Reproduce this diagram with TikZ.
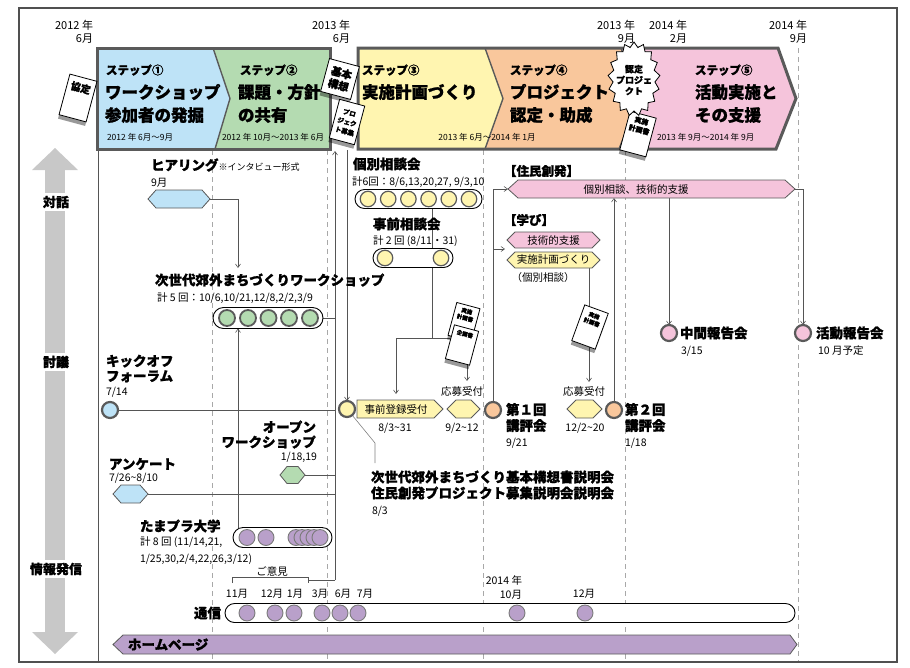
\documentclass[tikz,border=0pt]{standalone}
\usepackage{fontspec}
\setmainfont{Noto Sans CJK JP}[BoldFeatures={FakeBold=1.2}]
\usetikzlibrary{shapes.symbols,shapes.misc,shadows,arrows.meta,calc}
\definecolor{cblue}{HTML}{BEE3F7}
\definecolor{cgreen}{HTML}{B4DBB1}
\definecolor{cyellow}{HTML}{FFF5B0}
\definecolor{corange}{HTML}{F9C79C}
\definecolor{cpink}{HTML}{F5C4DB}
\definecolor{cpurple}{HTML}{B9A0CA}
\definecolor{cborder}{HTML}{5A5A5A}
\definecolor{cline}{HTML}{555555}
\definecolor{cdash}{HTML}{A8A8A8}
\definecolor{cgarrow}{HTML}{C8C8C8}
\definecolor{cframe}{HTML}{505050}
\newcommand{\fsz}[2]{\fontsize{#1pt}{#2pt}\selectfont}
\newcommand{\tld}{\char"007E\relax}
\newcommand{\hexof}[3]{\path[#3] (#1.west) -- ([xshift=#2pt]#1.north west) -- ([xshift=-#2pt]#1.north east) -- (#1.east) -- ([xshift=-#2pt]#1.south east) -- ([xshift=#2pt]#1.south west) -- cycle;}
\newcommand{\arrowof}[3]{\path[#3] (#1.north west) -- ([xshift=-#2pt]#1.north east) -- (#1.east) -- ([xshift=-#2pt]#1.south east) -- (#1.south west) -- cycle;}
\pgfdeclarelayer{back}
\pgfsetlayers{back,main}
\tikzset{
  every node/.style={inner sep=0pt, outer sep=0pt},
  tbl/.style={font=\bfseries\fsz{13.5}{15}},
  tsm/.style={font=\fsz{10.5}{12}},
  tmd/.style={font=\fsz{10.5}{12}},
  datel/.style={font=\fsz{11}{13}, align=right, anchor=east},
  stepn/.style={font=\bfseries\fsz{11.5}{13}, anchor=west},
  stept/.style={font=\bfseries\fsz{16.5}{23}, anchor=west, align=left},
  stepd/.style={font=\fsz{8.5}{10}},
  sideL/.style={font=\bfseries\fsz{13}{15}, fill=white, inner ysep=3pt, inner xsep=1pt},
  hexst/.style={draw=cborder, line width=0.8pt},
  pill/.style={rounded rectangle, draw=black, line width=0.9pt, fill=white},
  bigc/.style={circle, draw=cborder, line width=2.2pt, minimum size=16pt},
  ycirc/.style={circle, draw=cborder, line width=1.2pt, fill=cyellow, minimum size=15.5pt},
  gcirc/.style={circle, draw=cborder, line width=1.8pt, fill=cgreen, minimum size=16pt},
  pcirc/.style={circle, draw=cborder!80, line width=0.9pt, fill=cpurple, minimum size=16pt},
  card/.style={draw=black, fill=white, line width=0.8pt, rotate=#1,
    drop shadow={shadow xshift=-1pt, shadow yshift=-4pt, fill=black, opacity=0.4}},
  card/.default=-15,
  cardt/.style={rotate=#1, align=center},
  cardt/.default=-15,
  arr/.style={draw=cline, line width=0.6pt, -{Straight Barb[length=3.5pt,width=5pt]}},
  ln/.style={draw=cline, line width=0.6pt},
  dsh/.style={draw=cdash, line width=0.7pt, dash pattern=on 5pt off 4pt},
  stepb/.style={draw=cborder, line width=3pt, line join=miter},
  chev/.style={draw=cborder, line width=1.4pt},
}
\begin{document}
\begin{tikzpicture}[x=1pt,y=-1pt]
\useasboundingbox (0,0) rectangle (910,667);
% frame
\draw[draw=cframe, line width=1.2pt] (19,8) rectangle (897,662);
% big gray double arrow
\fill[cgarrow] (45,169) rectangle (65,633);
\fill[cgarrow] (32,170) -- (55,148) -- (78,170) -- cycle;
\fill[cgarrow] (32,632) -- (55,654) -- (78,632) -- cycle;
\node[sideL] (lt1) at (56,202) {対話};
\node[sideL] (lt2) at (56,362) {討議};
\node[sideL] (lt3) at (56,569) {情報発信};
% guides
\begin{pgfonlayer}{back}
\foreach \x in {212,327,483,625} \draw[dsh] (\x,150) -- (\x,661);
\draw[dsh] (798,48) -- (798,661);
\draw[cline, line width=0.8pt] (98,149) -- (98,661);
\end{pgfonlayer}
% dates
\node[datel] (d1) at (93,31.5) {2012 年\\6月};
\node[datel] (d2) at (350,31.5) {2013 年\\6月};
\node[datel] (d3) at (635,31.5) {2013 年\\9月};
\node[datel] (d4) at (687,31.5) {2014 年\\2月};
\node[datel] (d5) at (807,31.5) {2014 年\\9月};
% step bar part A
\fill[cblue] (97,48) -- (213,48) -- (230,98.5) -- (215,149) -- (97,149) -- cycle;
\fill[cgreen] (213,48) -- (330,48) -- (330,149) -- (215,149) -- (230,98.5) -- cycle;
\draw[chev] (213,48) -- (230,98.5) -- (215,149);
\draw[stepb] (97,48) rectangle (330,149);
% step bar part B
\fill[cyellow] (358,48) -- (485,48) -- (503,98.5) -- (485,149) -- (358,149) -- cycle;
\fill[corange] (485,48) -- (621,48) -- (639,98.5) -- (619,149) -- (485,149) -- (503,98.5) -- cycle;
\fill[cpink] (621,48) -- (778,48) -- (796,98.5) -- (776,149) -- (619,149) -- (639,98.5) -- cycle;
\draw[chev] (485,48) -- (503,98.5) -- (485,149);
\draw[chev] (621,48) -- (639,98.5) -- (619,149);
\draw[stepb] (358,48) -- (778,48) -- (796,98.5) -- (776,149) -- (358,149) -- cycle;
% step texts
\node[stepn] (s1a) at (106,70) {ステップ①};
\node[stept] (s1b) at (105,103.5) {ワークショップ\\参加者の発掘};
\node[stepd, anchor=west] (s1c) at (107,137) {2012 年 6月～9月};
\node[stepn] (s2a) at (240,70) {ステップ②};
\node[stept] (s2b) at (238,103.5) {課題・方針\\の共有};
\node[stepd, anchor=west] (s2c) at (222,137) {2012 年 10月～2013 年 6月};
\node[stepn] (s3a) at (362,70) {ステップ③};
\node[stept] (s3b) at (362,92) {実施計画づくり};
\node[stepd] (s3c) at (487,137) {2013 年 6月～2014 年 1月};
\node[stepn] (s4a) at (510,70) {ステップ④};
\node[stept] (s4b) at (510,103.5) {プロジェクト\\認定・助成};
\node[stepn] (s5a) at (695,70) {ステップ⑤};
\node[stept] (s5b) at (695,103.5) {活動実施と\\その支援};
\node[stepd, anchor=west] (s5c) at (657,137) {2013 年 9月～2014 年 9月};
% cards on the bar
\node[card, minimum width=28pt, minimum height=42pt] (kyo) at (78,98) {};
\node[cardt, font=\bfseries\fsz{10}{11}] (kyot) at ($(kyo.center)!0.5!(kyo.north)$) {協定};
\node[card, minimum width=31pt, minimum height=34pt, font=\bfseries\fsz{10.5}{12.5}, align=center] (kih) at (340,79) {基本\\構想};
\node[card, minimum width=26pt, minimum height=40pt, font=\bfseries\fsz{6.5}{9.5}, align=center] (pjb) at (347,122) {プロ\\ジェク\\ト募集};
\node[card, minimum width=27pt, minimum height=40pt] (jk1) at (638,134) {};
\node[cardt, font=\bfseries\fsz{7}{9}] (jk1t) at ($(jk1.center)!0.45!(jk1.north)$) {実施\\計画書};
\node[starburst, draw=black, fill=white, line width=0.8pt, starburst points=17, starburst point height=5pt, random starburst=0, minimum width=52pt, minimum height=74pt] (nin) at (634,79) {};
\node[font=\bfseries\fsz{9}{11}, align=center] (nint) at (634,80) {認定\\プロジェ\\クト};
% ===== 対話 =====
\node[minimum width=62pt, minimum height=18pt] (hear) at (179,199) {};
\hexof{hear}{8}{hexst, fill=cblue}
\node[tbl, anchor=west] (heart) at (151,165) {ヒアリング{\mdseries\fsz{9}{10}※インタビュー形式}};
\node[tsm, anchor=west] (hearm) at (151,183) {9月};
\node[tbl, anchor=west] (wst) at (155,280) {次世代郊外まちづくりワークショップ};
\node[tsm, anchor=west] (wsd) at (157,298) {計 5 回：10/6,10/21,12/8,2/2,3/9};
\node[pill, minimum width=110pt, minimum height=21pt] (wsP) at (268,318) {};
\foreach \i/\x in {1/227,2/248,3/268.5,4/289,5/310} \node[gcirc] (wsc\i) at (\x,318) {};
\node[tbl, anchor=west] (kobt) at (353,164) {個別相談会};
\node[tsm, anchor=west] (kobd) at (352,182) {計6回：8/6,13,20,27, 9/3,10};
\node[pill, minimum width=127pt, minimum height=19pt] (kob) at (418.5,199) {};
\foreach \i in {0,...,5} \node[ycirc] (kobc\i) at (368+\i*20.2,199) {};
\node[tbl, anchor=west] (jzt) at (373,224) {事前相談会};
\node[tsm, anchor=west] (jzd) at (373,241) {計 2 回 (8/11・31)};
\node[pill, minimum width=80pt, minimum height=19pt] (jz) at (413,258) {};
\node[ycirc] (jzc1) at (385,258) {};
\node[ycirc] (jzc2) at (441,258) {};
\node[tbl, font=\bfseries\fsz{12.5}{14}, anchor=west] (jumt) at (504,171) {【住民創発】};
\node[minimum width=287pt, minimum height=18pt] (jum) at (651.5,189) {};
\hexof{jum}{10}{hexst, fill=cpink}
\node[tmd] (jumtx) at (636,189) {個別相談、技術的支援};
\node[tbl, font=\bfseries\fsz{12.5}{14}, anchor=west] (mant) at (504,220) {【学び】};
\node[minimum width=93pt, minimum height=16pt] (gij) at (553.5,240) {};
\hexof{gij}{8}{hexst, fill=cpink}
\node[tmd] (gijt) at (553.5,240) {技術的支援};
\node[minimum width=93pt, minimum height=16pt] (jis) at (553.5,260) {};
\hexof{jis}{8}{hexst, fill=cyellow}
\node[tmd] (jist) at (553.5,260) {実施計画づくり};
\node[tmd] (kbs) at (543,278) {（個別相談）};
% ===== 討議 =====
\node[bigc, fill=cpink] (chu) at (669,333) {};
\node[tbl, anchor=west] (chut) at (680,333) {中間報告会};
\node[tsm, anchor=west] (chud) at (681,351) {3/15};
\node[bigc, fill=cpink] (kat) at (803,333) {};
\node[tbl, anchor=west] (katt) at (816,333) {活動報告会};
\node[tsm, anchor=west] (katd) at (818,351) {10 月予定};
\node[tbl, anchor=west, align=left] (kickt) at (106,368.5) {キックオフ\\フォーラム};
\node[tsm, anchor=west] (kickd) at (106,392) {7/14};
\node[bigc, fill=cblue] (kick) at (110,410) {};
\node[tbl, anchor=east, align=right] (owst) at (316,434.5) {オープン\\ワークショップ};
\node[tsm, anchor=east] (owsd) at (317,457) {1/18,19};
\node[minimum width=25pt, minimum height=17pt] (ows) at (292.5,475) {};
\hexof{ows}{7}{hexst, fill=cgreen}
\node[tbl, anchor=west] (ankt) at (109,464) {アンケート};
\node[tsm, anchor=west] (ankd) at (109,478) {7/26\tld 8/10};
\node[minimum width=35pt, minimum height=18pt] (ank) at (130.5,494) {};
\hexof{ank}{8}{hexst, fill=cblue}
\node[bigc, fill=cyellow] (yc) at (347,409) {};
\node[minimum width=86pt, minimum height=18pt] (reg) at (400,409) {};
\arrowof{reg}{9}{hexst, fill=cyellow}
\node[tmd] (regt) at (396,409) {事前登録受付};
\node[tmd] (regd) at (395,428) {8/3\tld 31};
\node[minimum width=33pt, minimum height=18pt] (ob1) at (463.5,409) {};
\hexof{ob1}{9}{hexst, fill=cyellow}
\node[tmd] (ob1t) at (462,392) {応募受付};
\node[tmd] (ob1d) at (462,428) {9/2\tld 12};
\node[bigc, fill=corange] (k1) at (493,410) {};
\node[tbl, anchor=west, align=left, font=\bfseries\fsz{13.5}{16}] (k1t) at (506,417.5) {第１回\\講評会};
\node[tsm, anchor=west] (k1d) at (506,443) {9/21};
\node[minimum width=35pt, minimum height=18pt] (ob2) at (584.5,409) {};
\hexof{ob2}{9}{hexst, fill=cyellow}
\node[tmd] (ob2t) at (584,392) {応募受付};
\node[tmd] (ob2d) at (585,428) {12/2\tld 20};
\node[bigc, fill=corange] (k2) at (614,410) {};
\node[tbl, anchor=west, align=left, font=\bfseries\fsz{13.5}{16}] (k2t) at (625,417.5) {第２回\\講評会};
\node[tsm, anchor=west] (k2d) at (625,443) {1/18};
\node[tbl, anchor=west, align=left, font=\bfseries\fsz{13.5}{16}] (setu) at (371,485) {次世代郊外まちづくり基本構想書説明会\\住民創発プロジェクト募集説明会説明会};
\node[tsm, anchor=west] (setud) at (372,511) {8/3};
% cards in the middle
\node[card, minimum width=24pt, minimum height=34pt] (jk2) at (464,322) {};
\node[cardt, font=\bfseries\fsz{5.5}{7}] (jk2t) at ($(jk2.center)!0.45!(jk2.north)$) {実施\\計画書};
\node[card, minimum width=25pt, minimum height=35pt] (kik) at (462,345) {};
\node[cardt, font=\bfseries\fsz{5.5}{7}] (kikt) at ($(kik.center)!0.65!(kik.north)$) {企画書};
\node[card=-20, minimum width=25pt, minimum height=38pt] (jk3) at (590,327) {};
\node[cardt=-20, font=\bfseries\fsz{5.5}{7}] (jk3t) at ($(jk3.center)!0.45!(jk3.north)$) {実施\\計画書};
% ===== 情報発信 =====
\node[tbl, anchor=west] (tpt) at (140,526) {たまプラ大学};
\node[tsm, anchor=west] (tpd1) at (140,542) {計 8 回 (11/14,21,};
\node[tsm, anchor=west] (tpd2) at (140,559) {1/25,30,2/4,22,26,3/12)};
\node[pill, minimum width=99pt, minimum height=20pt] (tp) at (282.5,537.5) {};
\foreach \i/\x in {1/247,2/266,3/296,4/302,5/308,6/314,7/320} \node[pcirc] (tpc\i) at (\x,537.5) {};
\node[tsm] (goi) at (272,571) {ご意見};
\coordinate (brL) at (232,577);
\coordinate (brR) at (308,577);
\foreach \t/\x in {11月/237,12月/272,1月/295,3月/320,6月/343,7月/365} \node[tmd] (mo\x) at (\x,594) {\t};
\node[tmd, anchor=east, align=right, font=\fsz{10.5}{14}] (y14) at (522,587) {2014 年\\10月};
\node[tmd] (mo12b) at (584,594) {12月};
\node[tbl, anchor=east] (tsut) at (221,613) {通信};
\node[pill, minimum width=570pt, minimum height=19pt] (tsu) at (510,613) {};
\foreach \x in {247,275,294,322,340,358,517,585} \node[pcirc] (tsc\x) at (\x,613) {};
\node[minimum width=684pt, minimum height=19pt] (hp) at (455,644.5) {};
\path[draw=cborder, line width=0.8pt, fill=cpurple] (hp.west) -- ([xshift=10pt]hp.north west) -- ([xshift=-7pt]hp.north east) -- (hp.east) -- ([xshift=-7pt]hp.south east) -- ([xshift=10pt]hp.south west) -- cycle;
\node[tbl, anchor=west] (hpt) at (128,644.5) {ホームページ};
% ===== connectors =====
\coordinate (hearin) at (238,268);
\coordinate (fbtop) at (335,151);
\coordinate (fbbot) at (335,580);
\coordinate (pjtop) at (347,150);
\coordinate (jzx) at (432,300);
\coordinate (jzL) at (396,338);
\coordinate (jzR) at (467,338);
\coordinate (regin) at (396,394);
\coordinate (ob1in) at (467,381);
\coordinate (ob2in) at (589,382);
\coordinate (mabi) at (505,249);
\coordinate (setbend) at (375,443);
\coordinate (setend) at (375,463);
\begin{pgfonlayer}{back}
\draw[arr] (hear.east) -| (hearin);
\draw[arr] (tp.north -| hearin) -- (wsP.south -| hearin);
\draw[arr] (fbbot) -- (fbtop);
\draw[ln] ([yshift=-6pt]brL) -- (brL) -- (brR) -- ([yshift=-6pt]brR);
\draw[ln] ([yshift=-3pt]brR) -- (fbbot);
\draw[ln] (kick.east) -- (kick.east -| fbtop);
\draw[ln] (ows.east) -- (ows.east -| fbtop);
\draw[ln] (ank.east) -- (ank.east -| fbtop);
\draw[ln] (wsP.east) -- (wsP.east -| fbtop);
\draw[arr] (pjtop) -- (yc.north);
\draw[ln] (kob.south -| jzx) -- (jz.north -| jzx);
\draw[ln] (jz.south -| jzx) -- (jzx |- jzL);
\draw[ln] (jzL) -- (jzR);
\draw[arr] (jzL) -- (regin);
\draw[arr] (jzR) -- (ob1in);
\draw[arr] (k1.north) |- (jum.west);
\draw[arr] (k1.north |- mabi) -- (mabi);
\draw[arr] (jis.south -| ob2in) -- (ob2in);
\draw[arr] (k2.north) -- (k2.north |- jum.south);
\draw[arr] (jum.south -| chu.north) -- (chu.north);
\draw[arr] (jum.east) -| (kat.north);
\draw[draw=gray, line width=0.6pt] (yc.-50) -- (setbend) -- (setend);
\end{pgfonlayer}
\end{tikzpicture}
\end{document}
